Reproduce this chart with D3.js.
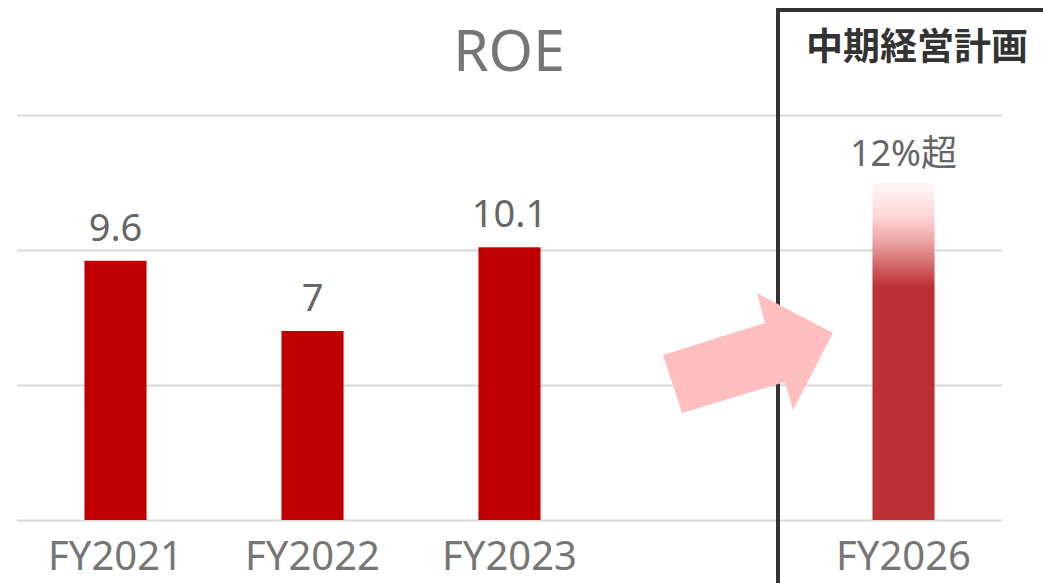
<!DOCTYPE html>
<html>
<head>
<meta charset="utf-8">
<script src="https://cdn.jsdelivr.net/npm/d3@7"></script>
<style>
  body { margin: 0; background: #fff; }
  text { font-family: "Noto Sans", "Noto Sans CJK JP", sans-serif; }
</style>
</head>
<body>
<div id="chart"></div>
<script>
// data
var categories = ["FY2021", "FY2022", "FY2023", "", "FY2026"];
var actualYears = ["FY2021", "FY2022", "FY2023"];
var actualRoe = [9.6, 7, 10.1];
var planYear = "FY2026";
var planRoe = 12.5;
var planLabel = "12%超";
var gridTicks = [0, 5, 10, 15];

var svgWidth = 1043;
var svgHeight = 583;

var svg = d3.select("#chart")
  .append("svg")
  .attr("width", svgWidth)
  .attr("height", svgHeight);

var x = d3.scaleBand()
  .domain(categories)
  .range([17, 1002])
  .paddingInner(0.685)
  .paddingOuter(0.3425);

var y = d3.scaleLinear()
  .domain([0, 15])
  .range([520, 115]);

// gridlines
var grid = svg.append("g")
  .attr("transform", "translate(17,0)")
  .call(d3.axisLeft(y).tickValues(gridTicks).tickSize(-985).tickFormat(""));
grid.select(".domain").remove();
grid.selectAll("line").attr("stroke", "#d9d9d9").attr("stroke-width", 2);

// title
svg.append("text")
  .attr("x", 509)
  .attr("y", 71)
  .attr("text-anchor", "middle")
  .attr("fill", "#767676")
  .style("font-size", "57px")
  .text("ROE");

// actual bars
svg.selectAll("rect.bar")
  .data(actualYears)
  .enter()
  .append("rect")
  .attr("class", "bar")
  .attr("x", d => x(d))
  .attr("width", x.bandwidth())
  .attr("y", (d, i) => y(actualRoe[i]))
  .attr("height", (d, i) => y(0) - y(actualRoe[i]))
  .attr("fill", "#c00000");

svg.selectAll("text.val")
  .data(actualYears)
  .enter()
  .append("text")
  .attr("class", "val")
  .attr("x", d => x(d) + x.bandwidth() / 2)
  .attr("y", (d, i) => y(actualRoe[i]) - 20)
  .attr("text-anchor", "middle")
  .attr("fill", "#666")
  .style("font-size", "38px")
  .text((d, i) => actualRoe[i]);

// plan bar with fade
var defs = svg.append("defs");
var grad = defs.append("linearGradient")
  .attr("id", "planGrad")
  .attr("x1", 0).attr("y1", 0).attr("x2", 0).attr("y2", 1);
grad.append("stop").attr("offset", "0%").attr("stop-color", "#fff8f8");
grad.append("stop").attr("offset", "10%").attr("stop-color", "#ffd6d6");
grad.append("stop").attr("offset", "18%").attr("stop-color", "#eaa0a0");
grad.append("stop").attr("offset", "26%").attr("stop-color", "#cc5a5c");
grad.append("stop").attr("offset", "31%").attr("stop-color", "#bc3035");
grad.append("stop").attr("offset", "100%").attr("stop-color", "#bc3035");

svg.append("rect")
  .attr("x", x(planYear))
  .attr("width", x.bandwidth())
  .attr("y", y(planRoe))
  .attr("height", y(0) - y(planRoe))
  .attr("fill", "url(#planGrad)");

svg.append("text")
  .attr("x", x(planYear) + x.bandwidth() / 2)
  .attr("y", y(planRoe) - 17)
  .attr("text-anchor", "middle")
  .attr("fill", "#666")
  .style("font-size", "36px")
  .text(planLabel);

// x axis labels
var xAxis = svg.append("g")
  .attr("transform", "translate(0,520)")
  .call(d3.axisBottom(x).tickSize(0).tickPadding(0));
xAxis.select(".domain").remove();
xAxis.selectAll("text")
  .attr("y", 50)
  .attr("dy", null)
  .attr("fill", "#767676")
  .style("font-family", "'Noto Sans', sans-serif")
  .style("font-size", "40px");

// plan box
svg.append("rect")
  .attr("x", 778)
  .attr("y", 10)
  .attr("width", 400)
  .attr("height", 650)
  .attr("fill", "none")
  .attr("stroke", "#333")
  .attr("stroke-width", 4);

svg.append("text")
  .attr("x", 917)
  .attr("y", 60)
  .attr("text-anchor", "middle")
  .attr("fill", "#333")
  .style("font-family", "'Noto Sans CJK JP', sans-serif")
  .style("font-weight", "bold")
  .style("font-size", "37px")
  .text("中期経営計画");

// arrow
svg.append("polygon")
  .attr("points", "663,355 765,323 757,293 833,333 793,410 785,382 682,413")
  .attr("fill", "#ffbfbf");
</script>
</body>
</html>
